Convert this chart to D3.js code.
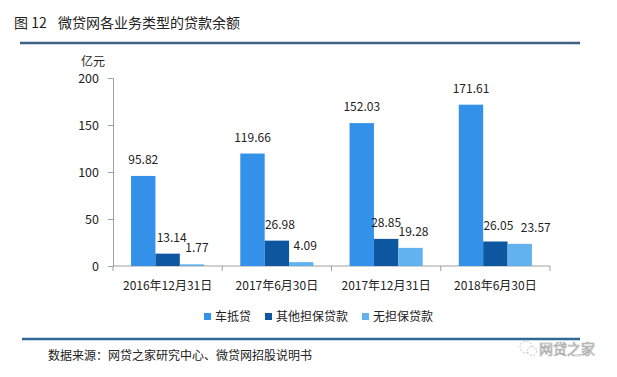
<!DOCTYPE html>
<html>
<head>
<meta charset="utf-8">
<script src="https://cdn.jsdelivr.net/npm/d3@7"></script>
<style>
  body { margin: 0; background: #fff; }
  svg { display: block; font-family: "Noto Sans CJK SC", "DejaVu Sans", sans-serif; }
</style>
</head>
<body>
<div id="chart"></div>
<script>
const categories = ['2016年12月31日', '2017年6月30日', '2017年12月31日', '2018年6月30日'];
const seriesNames = ['车抵贷', '其他担保贷款', '无担保贷款'];
const carLoan = [95.82, 119.66, 152.03, 171.61];
const otherSecured = [13.14, 26.98, 28.85, 26.05];
const unsecured = [1.77, 4.09, 19.28, 23.57];
const yTicks = [0, 50, 100, 150, 200];
const colors = ['#3391ea', '#0c579f', '#62b2f0'];
// small nudges so the labels don't collide (as in the original)
const labelDx = [[0, 0, 0, 0], [4, 3, 0, 3], [5, 4, 3, 16]];

const seriesValues = [carLoan, otherSecured, unsecured];

const svg = d3.select('#chart')
  .append('svg')
  .attr('width', 617)
  .attr('height', 377);

// title + rules
svg.append('text')
  .attr('x', 14)
  .attr('y', 28)
  .attr('font-size', '14px')
  .attr('fill', '#222')
  .text('图 12');
svg.append('text')
  .attr('x', 58)
  .attr('y', 28)
  .attr('font-size', '14px')
  .attr('fill', '#222')
  .text('微贷网各业务类型的贷款余额');

svg.append('line')
  .attr('x1', 20).attr('x2', 580)
  .attr('y1', 43).attr('y2', 43)
  .attr('stroke', '#3d6284')
  .attr('stroke-width', 2.5);

svg.append('line')
  .attr('x1', 22).attr('x2', 580)
  .attr('y1', 339).attr('y2', 339)
  .attr('stroke', '#2f6a95')
  .attr('stroke-width', 2.5);

const x = d3.scaleBand()
  .domain(categories)
  .range([113, 550]);

const xInner = d3.scaleBand()
  .domain(seriesNames)
  .range([0, x.bandwidth()])
  .paddingOuter(0.74);

const y = d3.scaleLinear()
  .domain([0, 200])
  .range([266, 78]);

// axes
const yAxis = svg.append('g')
  .attr('transform', 'translate(113,0)')
  .call(d3.axisLeft(y).tickValues(yTicks).tickSize(5).tickPadding(9));
yAxis.select('.domain').attr('stroke', '#a0a0a0');
yAxis.selectAll('.tick line').attr('stroke', '#a0a0a0');
yAxis.selectAll('.tick text')
  .attr('font-size', '12.5px')
  .attr('fill', '#222')
  .attr('font-family', '"Noto Sans CJK SC", sans-serif');

svg.append('text')
  .attr('x', 81)
  .attr('y', 66)
  .attr('font-size', '12px')
  .attr('fill', '#222')
  .text('亿元');

const xAxis = svg.append('g')
  .attr('transform', 'translate(0,266)');
xAxis.append('line')
  .attr('x1', 113).attr('x2', 550)
  .attr('stroke', '#a0a0a0');
xAxis.selectAll('line.tk')
  .data(categories.concat(['end']))
  .enter()
  .append('line')
  .attr('class', 'tk')
  .attr('x1', (d, i) => i < categories.length ? x(d) : x(categories[categories.length - 1]) + x.bandwidth())
  .attr('x2', (d, i) => i < categories.length ? x(d) : x(categories[categories.length - 1]) + x.bandwidth())
  .attr('y1', 0).attr('y2', 5)
  .attr('stroke', '#a0a0a0');
xAxis.selectAll('text')
  .data(categories)
  .enter()
  .append('text')
  .attr('x', d => x(d) + x.bandwidth() / 2)
  .attr('y', 24)
  .attr('text-anchor', 'middle')
  .attr('font-size', '12px')
  .attr('fill', '#222')
  .text(d => d);

// bars
const groups = svg.selectAll('g.cat')
  .data(categories)
  .enter()
  .append('g')
  .attr('class', 'cat')
  .attr('transform', d => `translate(${x(d)},0)`);

const cells = (d, i) => seriesNames.map((s, j) => ({s, j, i, v: seriesValues[j][i]}));

groups.selectAll('rect')
  .data(cells)
  .enter()
  .append('rect')
  .attr('x', d => xInner(d.s))
  .attr('width', xInner.bandwidth())
  .attr('y', d => y(d.v))
  .attr('height', d => y(0) - y(d.v))
  .attr('fill', d => colors[d.j]);

groups.selectAll('text')
  .data(cells)
  .enter()
  .append('text')
  .attr('x', d => xInner(d.s) + xInner.bandwidth() / 2 + labelDx[d.j][d.i])
  .attr('y', d => y(d.v) - 12)
  .attr('text-anchor', 'middle')
  .attr('font-size', '12px')
  .attr('fill', '#222')
  .text(d => d.v.toFixed(2));

// legend
const legendX = [204, 265, 362];
const legend = svg.selectAll('g.legend')
  .data(seriesNames)
  .enter()
  .append('g')
  .attr('class', 'legend')
  .attr('transform', (d, i) => `translate(${legendX[i]},317)`);
legend.append('rect')
  .attr('x', 0).attr('y', -4)
  .attr('width', 7).attr('height', 7)
  .attr('fill', (d, i) => colors[i]);
legend.append('text')
  .attr('x', 11)
  .attr('y', 4)
  .attr('font-size', '12px')
  .attr('fill', '#222')
  .text(d => d);

// source
svg.append('text')
  .attr('x', 48)
  .attr('y', 360)
  .attr('font-size', '12px')
  .attr('fill', '#222')
  .text('数据来源：网贷之家研究中心、微贷网招股说明书');

// watermark
const wm = svg.append('g').attr('transform', 'translate(526,348)');
wm.append('circle').attr('cx', 0).attr('cy', -1).attr('r', 6)
  .attr('fill', 'none').attr('stroke', '#c4c4c4').attr('stroke-dasharray', '2,1.5');
wm.append('circle').attr('cx', 6).attr('cy', 3).attr('r', 4.5)
  .attr('fill', '#fff').attr('stroke', '#c4c4c4').attr('stroke-dasharray', '2,1.5');
wm.append('text')
  .attr('x', 13)
  .attr('y', 6)
  .attr('font-size', '14px')
  .attr('fill', '#fff')
  .attr('stroke', '#a8a8a8')
  .attr('stroke-width', 0.7)
  .text('网贷之家');
</script>
</body>
</html>
